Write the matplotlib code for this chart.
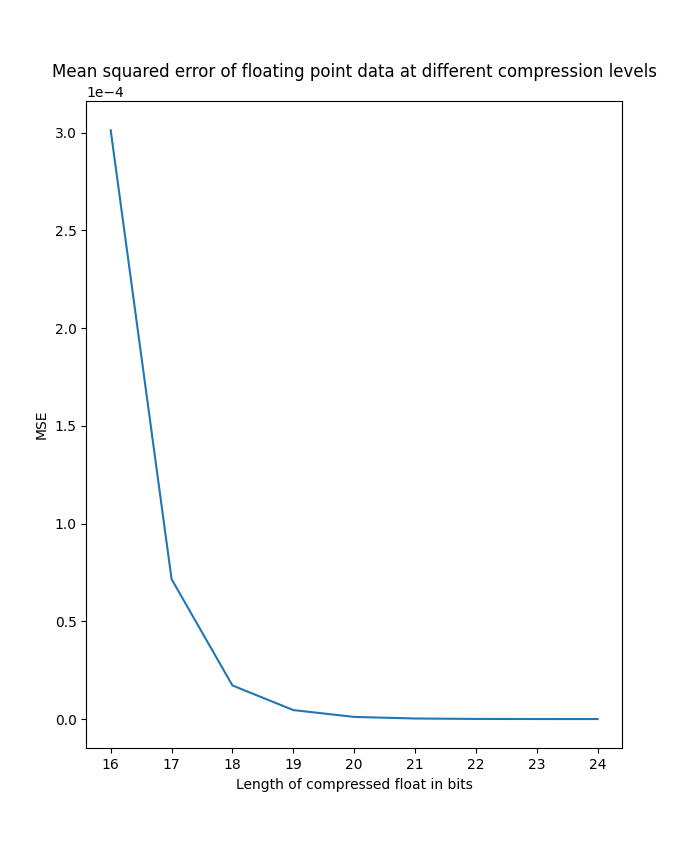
import matplotlib
matplotlib.use("Agg")
import matplotlib.pyplot as plt

bits = [16, 17, 18, 19, 20, 21, 22, 23, 24]
mse = [3.012e-4, 0.716e-4, 0.172e-4, 0.046e-4, 0.011e-4, 0.0029e-4, 0.0007e-4, 0.00018e-4, 0.00005e-4]

fig, ax = plt.subplots(figsize=(6.91, 8.41), dpi=100)
ax.plot(bits, mse)
ax.set_title("Mean squared error of floating point data at different compression levels")
ax.set_xlabel("Length of compressed float in bits")
ax.set_ylabel("MSE")
ax.ticklabel_format(axis="y", style="sci", scilimits=(0, 0))
fig.savefig("out.png", dpi=100)
